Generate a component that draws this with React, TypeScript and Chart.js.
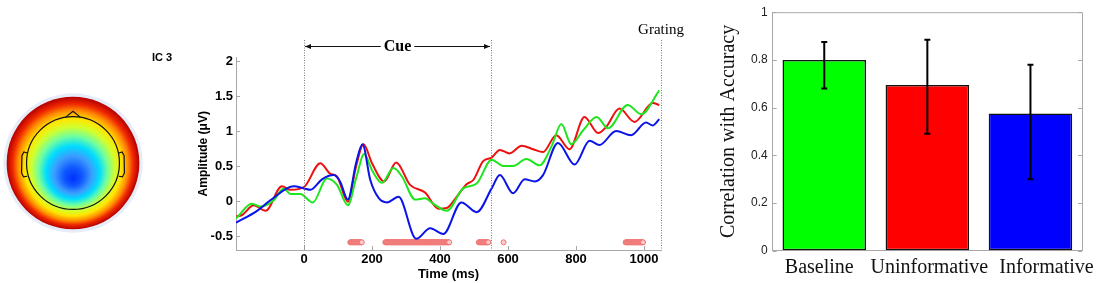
import React, { useEffect, useRef } from 'react';
import { Chart, registerables } from 'chart.js';
Chart.register(...registerables);

// ---------- Line chart data (time in ms, amplitude in µV) ----------
const redT = [-200, -182, -148, -113, -65, -40, 0, 48, 77, 97, 129, 153, 175, 200, 236, 271, 312, 356, 395, 420, 449, 478, 498, 527, 552, 576, 605, 640, 674, 703, 742, 781, 825, 865, 889, 928, 972, 1026, 1045];
const redV = [-0.22, -0.2, -0.06, -0.14, 0.21, 0.16, 0.2, 0.54, 0.39, 0.35, -0.01, 0.49, 0.81, 0.54, 0.28, 0.55, 0.23, 0.12, -0.11, -0.1, 0.06, 0.24, 0.3, 0.57, 0.62, 0.73, 0.68, 0.79, 0.74, 0.7, 0.94, 0.74, 1.2, 0.97, 1.06, 1.32, 1.13, 1.4, 1.37];
const greenT = [-200, -153, -128, -89, -60, -40, -11, 26, 67, 97, 129, 153, 177, 200, 229, 263, 288, 327, 356, 381, 420, 468, 508, 552, 586, 615, 654, 693, 728, 757, 786, 821, 861, 894, 952, 992, 1045];
const greenV = [-0.25, -0.04, -0.08, 0.01, 0.18, 0.1, 0.1, -0.02, 0.32, 0.23, -0.06, 0.32, 0.67, 0.44, 0.26, 0.47, 0.35, 0.02, 0.04, -0.04, -0.14, 0.18, 0.25, 0.59, 0.5, 0.5, 0.6, 0.51, 0.78, 1.1, 0.81, 1.01, 1.2, 1.04, 1.37, 1.24, 1.58];
const blueT = [-200, -138, -99, -30, 0, 19, 53, 87, 106, 129, 153, 172, 195, 220, 244, 278, 330, 371, 410, 463, 508, 552, 576, 615, 649, 679, 703, 747, 796, 840, 869, 918, 962, 1006, 1026, 1045];
const blueV = [-0.31, -0.14, 0.01, 0.21, 0.18, 0.16, 0.31, 0.37, 0.28, 0.02, 0.54, 0.81, 0.3, 0.04, -0.02, 0.06, -0.54, -0.39, -0.47, -0.02, -0.16, 0.18, 0.37, 0.11, 0.31, 0.28, 0.37, 0.83, 0.52, 0.86, 0.8, 1.0, 0.94, 1.12, 1.08, 1.17];
const sigRanges = [[136, 170], [239, 427], [514, 542], [587, 587], [946, 997]];
const sigLevel = -0.59;
const xTicks = [0, 200, 400, 600, 800, 1000];
const yTicks = [-0.5, 0, 0.5, 1, 1.5, 2];
const eventTimes = [0, 550, 1050];

// ---------- Bar chart data ----------
const barCats = ['Baseline', 'Uninformative', 'Informative'];
const barVals = [0.8, 0.695, 0.575];
const errLow = [0.68, 0.49, 0.3];
const errHigh = [0.875, 0.885, 0.78];
const barColors = ['#00ff00', '#ff0000', '#0000ff'];
const barTicks = [0, 0.2, 0.4, 0.6, 0.8, 1];

// ---------- Topographic map (unit-disc coordinates) ----------
const topoCenter = [0, -0.24];
const topoStops: [number, string][] = [
  [0, '#0030ff'], [0.14, '#1058ff'], [0.28, '#3c9cff'], [0.4, '#00dcff'], [0.52, '#70ffa0'],
  [0.63, '#d0ff30'], [0.73, '#ffe600'], [0.83, '#ff8c00'], [0.91, '#f02800'], [1, '#b40000'],
];
const headRadius = 0.7;
const nosePts = [[-0.11, 0.691], [0, 0.78], [0.11, 0.691]];
const earPts = [[-0.69, 0.15], [-0.74, 0.165], [-0.77, 0.11], [-0.775, -0.15], [-0.745, -0.21], [-0.69, -0.2]];

const toPts = (t: number[], v: number[]) => t.map((x, i) => ({ x, y: v[i] }));

function sigPoints() {
  const pts: { x: number; y: number }[] = [];
  sigRanges.forEach(([a, b]) => {
    for (let t = a; t <= b; t += 2) pts.push({ x: t, y: sigLevel });
    if ((b - a) % 2 !== 0) pts.push({ x: b, y: sigLevel });
  });
  return pts;
}

const boldSans = (size: number) => ({ family: "'Liberation Sans', Arial, sans-serif", size, weight: 'bold' as const });
const serif = "'Liberation Serif', 'Times New Roman', serif";

export default function App() {
  const headRef = useRef<HTMLCanvasElement>(null);
  const lineRef = useRef<HTMLCanvasElement>(null);
  const barRef = useRef<HTMLCanvasElement>(null);

  useEffect(() => {
    document.body.style.margin = '0';
    document.body.style.background = '#fff';

    // ---- Head map ----
    const headPlugin = {
      id: 'head',
      afterDraw(chart: any) {
        const { ctx } = chart;
        const sx = chart.scales.x, sy = chart.scales.y;
        const px = (v: number) => sx.getPixelForValue(v);
        const py = (v: number) => sy.getPixelForValue(v);
        const cx = px(0), cy = py(0);
        const r = px(1) - px(0);
        ctx.save();
        ctx.beginPath();
        ctx.arc(cx, cy, px(1.05) - px(0), 0, Math.PI * 2);
        ctx.fillStyle = '#e6edf8';
        ctx.fill();
        const g = ctx.createRadialGradient(px(topoCenter[0]), py(topoCenter[1]), 0, cx, cy, r);
        topoStops.forEach(([t, c]) => g.addColorStop(t, c));
        ctx.beginPath();
        ctx.arc(cx, cy, r, 0, Math.PI * 2);
        ctx.fillStyle = g;
        ctx.fill();
        ctx.strokeStyle = '#111';
        ctx.lineWidth = 1.2;
        ctx.beginPath();
        ctx.arc(cx, cy, px(headRadius) - px(0), 0, Math.PI * 2);
        ctx.stroke();
        ctx.beginPath();
        nosePts.forEach(([x, y], i) => (i ? ctx.lineTo(px(x), py(y)) : ctx.moveTo(px(x), py(y))));
        ctx.stroke();
        [1, -1].forEach((s) => {
          ctx.beginPath();
          earPts.forEach(([x, y], i) => (i ? ctx.lineTo(px(s * x), py(y)) : ctx.moveTo(px(s * x), py(y))));
          ctx.stroke();
        });
        ctx.fillStyle = '#000';
        ctx.font = "bold 11px 'Liberation Sans', Arial, sans-serif";
        ctx.textAlign = 'center';
        ctx.textBaseline = 'middle';
        ctx.fillText('IC 3', 162, 58);
        ctx.restore();
      },
    };
    const head = new Chart(headRef.current!, {
      type: 'scatter',
      data: { datasets: [] },
      options: {
        animation: false,
        responsive: false,
        layout: { padding: { left: 0, right: 34, top: 90, bottom: 47 } },
        plugins: { legend: { display: false }, tooltip: { enabled: false } },
        scales: {
          x: { type: 'linear', min: -1.1, max: 1.1, display: false },
          y: { type: 'linear', min: -1.1, max: 1.1, display: false },
        },
      },
      plugins: [headPlugin],
    } as any);

    // ---- Line chart ----
    const linePlugin = {
      id: 'lineDecor',
      afterDraw(chart: any) {
        const { ctx, chartArea } = chart;
        const sx = chart.scales.x, sy = chart.scales.y;
        ctx.save();
        ctx.strokeStyle = '#a8a8a8';
        ctx.lineWidth = 1;
        yTicks.forEach((v) => {
          const y = Math.round(sy.getPixelForValue(v)) + 0.5;
          ctx.beginPath(); ctx.moveTo(chartArea.left, y); ctx.lineTo(chartArea.left + 4, y); ctx.stroke();
        });
        xTicks.forEach((v) => {
          const x = Math.round(sx.getPixelForValue(v)) + 0.5;
          ctx.beginPath(); ctx.moveTo(x, chartArea.bottom); ctx.lineTo(x, chartArea.bottom - 4); ctx.stroke();
        });
        ctx.strokeStyle = '#7a7a7a';
        ctx.setLineDash([1, 1.5]);
        eventTimes.forEach((t) => {
          const x = Math.round(sx.getPixelForValue(t)) + 0.5;
          ctx.beginPath(); ctx.moveTo(x, 40); ctx.lineTo(x, chartArea.bottom); ctx.stroke();
        });
        ctx.setLineDash([]);
        const x0 = sx.getPixelForValue(eventTimes[0]) + 1;
        const x1 = sx.getPixelForValue(eventTimes[1]) - 1;
        const ay = 46.5;
        const mid = (x0 + x1) / 2;
        ctx.font = `bold 16px ${serif}`;
        const tw = ctx.measureText('Cue').width;
        ctx.strokeStyle = '#111';
        ctx.fillStyle = '#111';
        ctx.lineWidth = 1;
        ctx.beginPath();
        ctx.moveTo(x0, ay); ctx.lineTo(mid - tw / 2 - 3, ay);
        ctx.moveTo(mid + tw / 2 + 3, ay); ctx.lineTo(x1, ay);
        ctx.stroke();
        ctx.beginPath();
        ctx.moveTo(x0, ay); ctx.lineTo(x0 + 6, ay - 2.5); ctx.lineTo(x0 + 6, ay + 2.5); ctx.closePath();
        ctx.moveTo(x1, ay); ctx.lineTo(x1 - 6, ay - 2.5); ctx.lineTo(x1 - 6, ay + 2.5); ctx.closePath();
        ctx.fill();
        ctx.fillStyle = '#000';
        ctx.textAlign = 'center';
        ctx.textBaseline = 'middle';
        ctx.fillText('Cue', mid, ay);
        ctx.font = `15px ${serif}`;
        ctx.fillText('Grating', sx.getPixelForValue(eventTimes[2]), 30);
        ctx.restore();
      },
    };
    const line = new Chart(lineRef.current!, {
      type: 'line',
      data: {
        datasets: [
          { data: toPts(blueT, blueV), borderColor: '#0a14e8', borderWidth: 2, pointRadius: 0, cubicInterpolationMode: 'monotone', fill: false },
          { data: toPts(greenT, greenV), borderColor: '#1ee61e', borderWidth: 2, pointRadius: 0, cubicInterpolationMode: 'monotone', fill: false },
          { data: toPts(redT, redV), borderColor: '#ee1010', borderWidth: 2, pointRadius: 0, cubicInterpolationMode: 'monotone', fill: false },
          { data: sigPoints(), showLine: false, pointRadius: 2.5, pointBorderWidth: 1, pointBorderColor: '#f07070', pointBackgroundColor: '#ffcccc' },
        ],
      },
      options: {
        animation: false,
        responsive: false,
        layout: { padding: { left: 0, right: 29, top: 57.5, bottom: 0 } },
        plugins: { legend: { display: false }, tooltip: { enabled: false } },
        scales: {
          x: {
            type: 'linear', min: -200, max: 1050,
            afterBuildTicks: (s: any) => { s.ticks = xTicks.map((v) => ({ value: v })); },
            afterFit: (s: any) => { s.height = 33; },
            grid: { display: true, drawOnChartArea: false, drawTicks: false },
            border: { color: '#a8a8a8', width: 1 },
            ticks: { font: boldSans(13), color: '#000', padding: 2, maxRotation: 0, autoSkip: false, callback: (v: any) => String(v) },
            title: { display: true, text: 'Time (ms)', font: boldSans(13), color: '#000', padding: { top: 0, bottom: 1 } },
          },
          y: {
            type: 'linear', min: -0.7, max: 2.05,
            afterBuildTicks: (s: any) => { s.ticks = yTicks.map((v) => ({ value: v })); },
            afterFit: (s: any) => { s.width = 56; },
            grid: { display: true, drawOnChartArea: false, drawTicks: false },
            border: { color: '#a8a8a8', width: 1 },
            ticks: { font: boldSans(13), color: '#000', padding: 3, callback: (v: any) => String(v) },
            title: { display: true, text: 'Amplitude (μV)', font: boldSans(12), color: '#000', padding: { top: 16, bottom: 0 } },
          },
        },
      },
      plugins: [linePlugin],
    } as any);

    // ---- Bar chart ----
    const labelShift = [-5, 2, 16];
    const barPlugin = {
      id: 'barDecor',
      afterDatasetsDraw(chart: any) {
        const { ctx } = chart;
        const sy = chart.scales.y;
        const meta = chart.getDatasetMeta(0);
        ctx.save();
        ctx.strokeStyle = '#000';
        ctx.lineWidth = 2;
        meta.data.forEach((bar: any, i: number) => {
          const x = bar.x;
          const yl = sy.getPixelForValue(errLow[i]);
          const yh = sy.getPixelForValue(errHigh[i]);
          ctx.beginPath();
          ctx.moveTo(x, yl); ctx.lineTo(x, yh);
          ctx.moveTo(x - 3, yl); ctx.lineTo(x + 3, yl);
          ctx.moveTo(x - 3, yh); ctx.lineTo(x + 3, yh);
          ctx.stroke();
        });
        ctx.restore();
      },
      afterDraw(chart: any) {
        const { ctx, chartArea } = chart;
        const sx = chart.scales.x, sy = chart.scales.y;
        ctx.save();
        ctx.strokeStyle = '#a8a8a8';
        ctx.lineWidth = 1;
        ctx.beginPath();
        ctx.moveTo(chartArea.left, chartArea.top + 0.5); ctx.lineTo(chartArea.right + 0.5, chartArea.top + 0.5);
        ctx.lineTo(chartArea.right + 0.5, chartArea.bottom);
        ctx.stroke();
        barTicks.forEach((v) => {
          const y = Math.round(sy.getPixelForValue(v)) + 0.5;
          ctx.beginPath();
          ctx.moveTo(chartArea.left, y); ctx.lineTo(chartArea.left + 4, y);
          ctx.moveTo(chartArea.right, y); ctx.lineTo(chartArea.right - 4, y);
          ctx.stroke();
        });
        ctx.fillStyle = '#111';
        ctx.font = `20px ${serif}`;
        ctx.textAlign = 'center';
        ctx.textBaseline = 'middle';
        barCats.forEach((c, i) => {
          ctx.fillText(c, sx.getPixelForValue(i) + labelShift[i], 268);
        });
        ctx.restore();
      },
    };
    const bar = new Chart(barRef.current!, {
      type: 'bar',
      data: {
        labels: barCats,
        datasets: [{ data: barVals, backgroundColor: barColors, borderColor: '#111', borderWidth: 1.5, borderSkipped: false, barPercentage: 0.81, categoryPercentage: 1 }],
      },
      options: {
        animation: false,
        responsive: false,
        layout: { padding: { left: 0, right: 17, top: 5.7, bottom: 0 } },
        plugins: { legend: { display: false }, tooltip: { enabled: false } },
        scales: {
          x: {
            afterFit: (s: any) => { s.height = 32.3; },
            grid: { display: true, drawOnChartArea: false, drawTicks: false },
            border: { color: '#a8a8a8', width: 1 },
            ticks: { display: false },
          },
          y: {
            min: 0, max: 1,
            afterBuildTicks: (s: any) => { s.ticks = barTicks.map((v) => ({ value: v })); },
            afterFit: (s: any) => { s.width = 72.7; },
            grid: { display: true, drawOnChartArea: false, drawTicks: false },
            border: { color: '#a8a8a8', width: 1 },
            ticks: { font: { family: "'Liberation Sans', Arial, sans-serif", size: 12 }, color: '#222', padding: 5, callback: (v: any) => (v === 0 || v === 1 ? String(v) : Number(v).toFixed(1)) },
            title: { display: true, text: 'Correlation with Accuracy', font: { family: serif, size: 20 }, color: '#111', padding: { top: 17, bottom: 0 } },
          },
        },
      },
      plugins: [barPlugin],
    } as any);

    return () => { head.destroy(); line.destroy(); bar.destroy(); };
  }, []);

  return (
    <div style={{ position: 'fixed', left: 0, top: 0, width: 1099, height: 283, background: '#fff' }}>
      <canvas ref={headRef} width={180} height={283} style={{ position: 'absolute', left: 0, top: 0, width: 180, height: 283 }} />
      <canvas ref={lineRef} width={510} height={283} style={{ position: 'absolute', left: 180, top: 0, width: 510, height: 283 }} />
      <canvas ref={barRef} width={399} height={283} style={{ position: 'absolute', left: 700, top: 0, width: 399, height: 283 }} />
    </div>
  );
}
